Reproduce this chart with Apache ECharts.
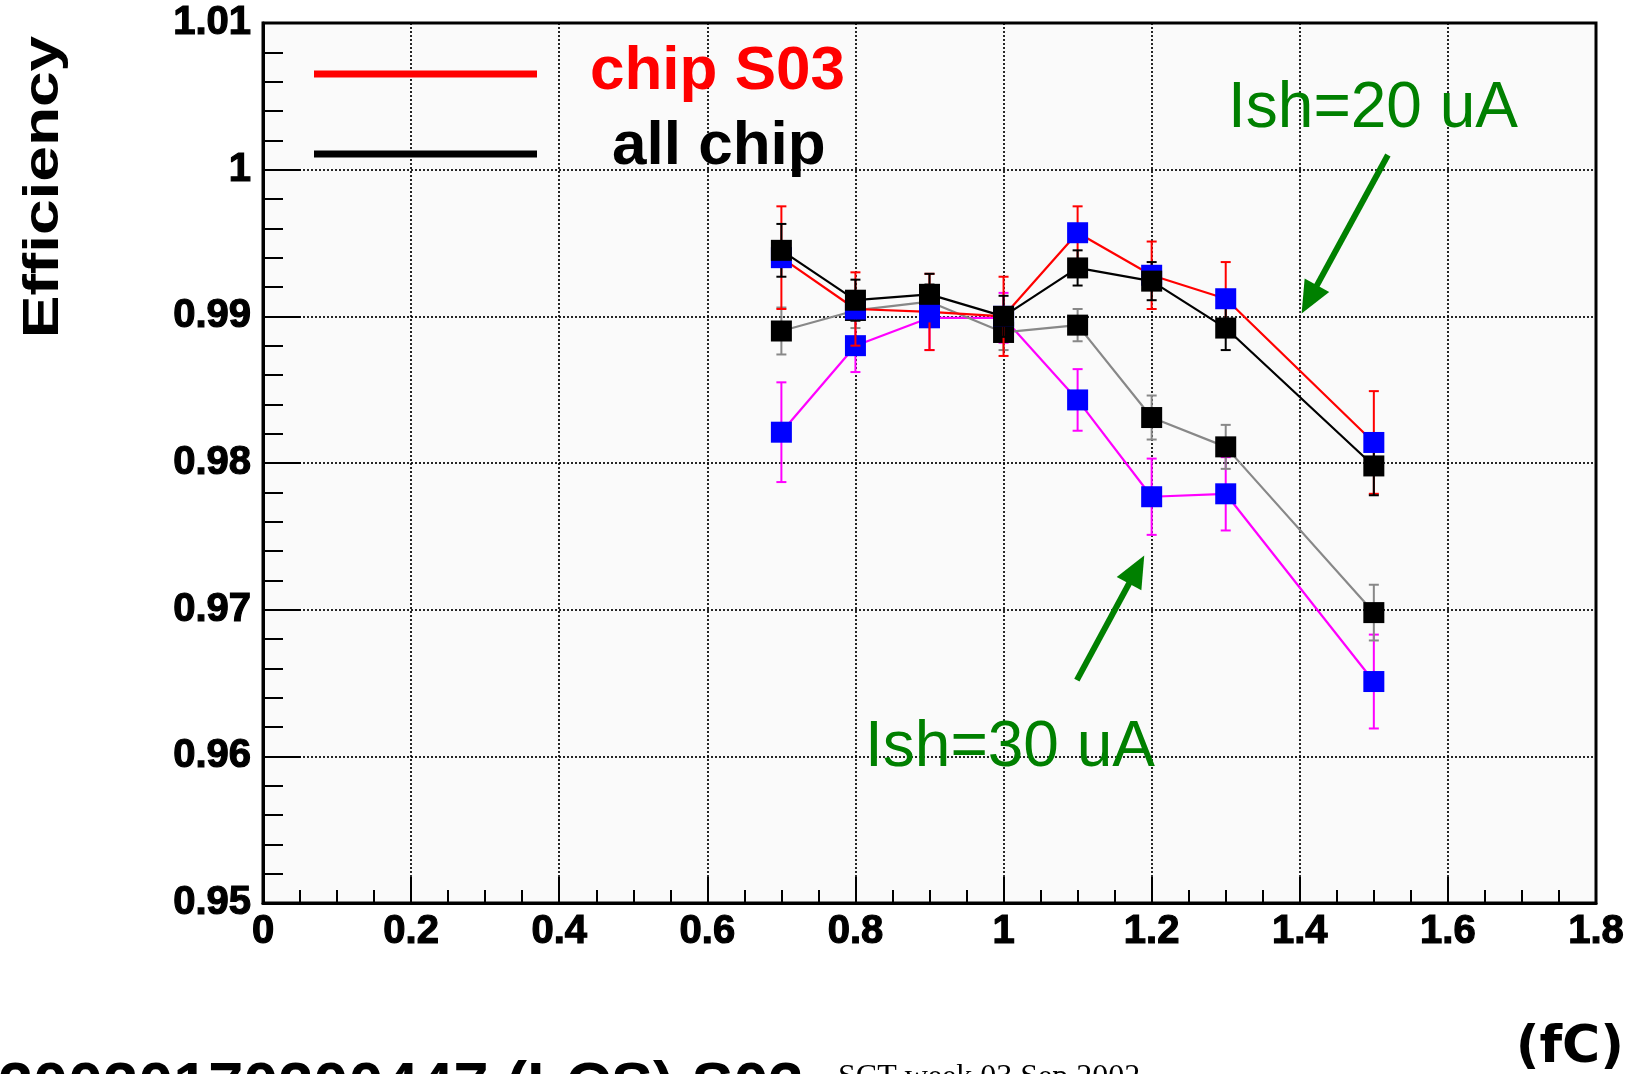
<!DOCTYPE html>
<html>
<head>
<meta charset="utf-8">
<script src="https://cdn.jsdelivr.net/npm/echarts@6/dist/echarts.min.js"></script>
<style>html,body{margin:0;padding:0;background:#fff}#c{width:1632px;height:1074px}</style>
</head>
<body>
<div id="c"></div>
<script>
// ---- data ----
const thresholds = [0.7, 0.8, 0.9, 1.0, 1.1, 1.2, 1.3, 1.5];           // fC
const s03_ish20     = [0.9940, 0.9905, 0.9903, 0.9900, 0.9957, 0.9928, 0.9912, 0.9814];
const s03_ish20_err = [0.0035, 0.0025, 0.0026, 0.0027, 0.0018, 0.0023, 0.0025, 0.0035];
const all_ish20     = [0.9945, 0.9911, 0.9915, 0.9900, 0.9933, 0.9924, 0.9892, 0.9798];
const all_ish20_err = [0.0018, 0.0014, 0.0014, 0.0014, 0.0012, 0.0013, 0.0015, 0.0020];
const all_ish30     = [0.9890, 0.9904, 0.9910, 0.9889, 0.9894, 0.9831, 0.9811, 0.9698];
const all_ish30_err = [0.0016, 0.0012, 0.0012, 0.0012, 0.0011, 0.0015, 0.0015, 0.0019];
const s03_ish30     = [0.9821, 0.9880, 0.9899, 0.9899, 0.9843, 0.9777, 0.9779, 0.9651];
const s03_ish30_err = [0.0034, 0.0018, 0.0022, 0.0017, 0.0021, 0.0026, 0.0025, 0.0032];
// arrows: [tailX, tailY, tipX, tipY]
const arrowIsh20 = [1.519, 1.0010, 1.4025, 0.9902];
const arrowIsh30 = [1.099, 0.9652, 1.190, 0.9737];
const legendNames = ['chip S03', 'all chip'];
const yTitle = 'Efficiency';
const xUnit = '(fC)';
const footerMain = '20020170200447 (LCS) S03';
const footerSmall = 'SCT week 03 Sep 2002';

const pts = (vals) => thresholds.map((x, i) => [x, vals[i]]);
const errPts = (vals, errs) => thresholds.map((x, i) => [x, vals[i], errs[i]]);

function errSeries(vals, errs, color, z) {
  return {
    type: 'custom', z: z, silent: true,
    data: errPts(vals, errs),
    renderItem: function (params, api) {
      const x = api.value(0), y = api.value(1), e = api.value(2);
      const t = api.coord([x, y + e]), b = api.coord([x, y - e]);
      const cw = 5;
      const st = { stroke: color, lineWidth: 2 };
      return { type: 'group', children: [
        { type: 'line', shape: { x1: t[0], y1: t[1], x2: b[0], y2: b[1] }, style: st },
        { type: 'line', shape: { x1: t[0] - cw, y1: t[1], x2: t[0] + cw, y2: t[1] }, style: st },
        { type: 'line', shape: { x1: b[0] - cw, y1: b[1], x2: b[0] + cw, y2: b[1] }, style: st }
      ]};
    }
  };
}
function lineSeries(name, vals, lineColor, lineWidth, markerColor, z) {
  return {
    type: 'line', name: name, z: z,
    data: pts(vals),
    symbol: 'rect', symbolSize: 21,
    itemStyle: { color: markerColor },
    lineStyle: { color: lineColor, width: lineWidth },
    emphasis: { disabled: true }
  };
}
function arrowSeries(a) {
  return {
    type: 'custom', z: 20, silent: true,
    data: [a],
    renderItem: function (params, api) {
      const p0 = api.coord([api.value(0), api.value(1)]);
      const p1 = api.coord([api.value(2), api.value(3)]);
      const dx = p1[0] - p0[0], dy = p1[1] - p0[1];
      const L = Math.sqrt(dx * dx + dy * dy);
      const ux = dx / L, uy = dy / L, nx = -uy, ny = ux;
      const hl = 32, hw = 14;
      const bx = p1[0] - ux * hl, by = p1[1] - uy * hl;
      return { type: 'group', children: [
        { type: 'line', shape: { x1: p0[0], y1: p0[1], x2: bx + ux * 4, y2: by + uy * 4 },
          style: { stroke: '#008000', lineWidth: 6 } },
        { type: 'polygon', shape: { points: [[p1[0], p1[1]], [bx + nx * hw, by + ny * hw], [bx - nx * hw, by - ny * hw]] },
          style: { fill: '#008000' } }
      ]};
    }
  };
}

const chart = echarts.init(document.getElementById('c'), null, { renderer: 'canvas' });
const fmt = v => String(+v.toFixed(2));
const tickFont = { fontFamily: 'Liberation Sans', fontWeight: 'bold', fontSize: 40, color: '#000', textBorderColor: '#000', textBorderWidth: 1.2 };
const gridLine = { show: true, lineStyle: { color: '#000', type: [2, 2], width: 2, opacity: 0.85 } };

chart.setOption({
  animation: false,
  backgroundColor: '#ffffff',
  grid: { left: 263, right: 36, top: 23, bottom: 171, show: true, backgroundColor: '#fafafa', borderColor: '#000', borderWidth: 3 },
  xAxis: {
    type: 'value', min: 0, max: 1.8, interval: 0.2,
    axisLine: { show: true, onZero: false, lineStyle: { color: '#000', width: 3 } },
    axisTick: { show: true, inside: true, length: 26, lineStyle: { color: '#000', width: 2 } },
    minorTick: { show: true, splitNumber: 4, length: 13, lineStyle: { color: '#000', width: 2 } },
    axisLabel: Object.assign({ margin: 9, formatter: fmt }, tickFont),
    splitLine: gridLine
  },
  yAxis: {
    type: 'value', min: 0.95, max: 1.01, interval: 0.01,
    axisLine: { show: true, onZero: false, lineStyle: { color: '#000', width: 3 } },
    axisTick: { show: true, inside: true, length: 38, lineStyle: { color: '#000', width: 2 } },
    minorTick: { show: true, splitNumber: 5, length: 20, lineStyle: { color: '#000', width: 2 } },
    axisLabel: Object.assign({ margin: 12, formatter: fmt }, tickFont),
    splitLine: gridLine
  },
  series: [
    errSeries(s03_ish30, s03_ish30_err, '#ff00ff', 3),
    errSeries(all_ish30, all_ish30_err, '#888888', 3),
    lineSeries('S03 Ish=30', s03_ish30, '#ff00ff', 2.2, '#0000ff', 4),
    lineSeries('all Ish=30', all_ish30, '#888888', 2.2, '#000000', 5),
    errSeries(s03_ish20, s03_ish20_err, '#ff0000', 6),
    errSeries(all_ish20, all_ish20_err, '#000000', 6),
    lineSeries('S03 Ish=20', s03_ish20, '#ff0000', 2.2, '#0000ff', 7),
    lineSeries('all Ish=20', all_ish20, '#000000', 2.2, '#000000', 8),
    arrowSeries(arrowIsh20),
    arrowSeries(arrowIsh30)
  ],
  graphic: [
    { type: 'line', shape: { x1: 314, y1: 74, x2: 537, y2: 74 }, style: { stroke: '#ff0000', lineWidth: 7 }, z: 30 },
    { type: 'line', shape: { x1: 314, y1: 154, x2: 537, y2: 154 }, style: { stroke: '#000000', lineWidth: 7 }, z: 30 },
    { type: 'text', x: 590, y: 72, z: 30, style: { text: legendNames[0], fill: '#ff0000', font: 'bold 62px "Liberation Sans"', textAlign: 'left', textVerticalAlign: 'middle' } },
    { type: 'text', x: 612, y: 147, z: 30, style: { text: legendNames[1], fill: '#000000', font: 'bold 62px "Liberation Sans"', textAlign: 'left', textVerticalAlign: 'middle' } },
    { type: 'text', x: 1228, y: 109, z: 30, style: { text: 'Ish=20 uA', fill: '#008000', font: '64px "Liberation Sans"', textAlign: 'left', textVerticalAlign: 'middle' } },
    { type: 'text', x: 865, y: 748, z: 30, style: { text: 'Ish=30 uA', fill: '#008000', font: '64px "Liberation Sans"', textAlign: 'left', textVerticalAlign: 'middle' } },
    { type: 'text', x: 44, y: 187, rotation: Math.PI / 2, scaleX: 1.28, scaleY: 1, z: 30,
      style: { text: yTitle, fill: '#000', font: 'bold 50px "Liberation Sans"', textAlign: 'center', textVerticalAlign: 'middle' } },
    { type: 'text', x: 1624, y: 1048, z: 30, style: { text: xUnit, fill: '#000', font: 'bold 52px "DejaVu Sans"', textAlign: 'right', textVerticalAlign: 'middle' } },
    { type: 'text', x: -2, y: 1089, z: 30, style: { text: footerMain, fill: '#000', font: 'bold 63px "Liberation Sans"', textAlign: 'left', textVerticalAlign: 'middle' } },
    { type: 'text', x: 838, y: 1078, z: 30, style: { text: footerSmall, fill: '#000', font: '32px "Liberation Serif"', textAlign: 'left', textVerticalAlign: 'middle' } }
  ]
});
</script>
</body>
</html>
